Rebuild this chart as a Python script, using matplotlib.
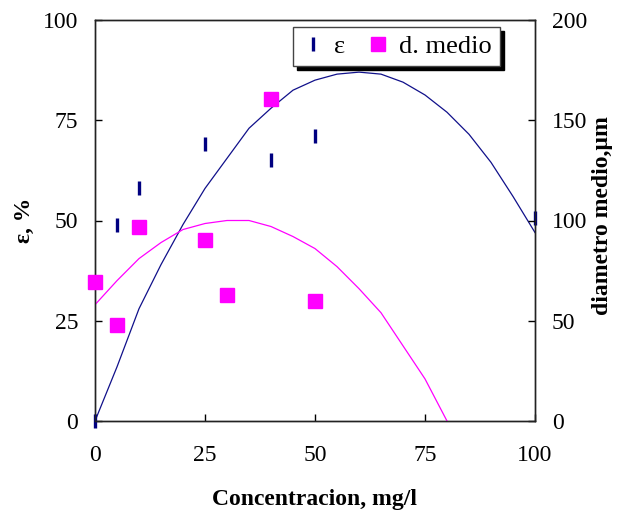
import matplotlib
matplotlib.use("Agg")
import matplotlib.pyplot as plt
from matplotlib.lines import Line2D

plt.rcParams["font.family"] = ["Liberation Serif", "DejaVu Serif"]

# measured points
conc_eps = [0, 5, 10, 25, 40, 50, 100]
eps = [0, 49, 58, 69, 65, 71, 50.5]

conc_d = [0, 5, 10, 25, 30, 40, 50]
d_medio = [69.5, 48, 97, 90.5, 63, 160.5, 60]

# trend curves
trend_x_eps = [0, 5, 10, 15, 20, 25, 30, 35, 40, 45, 50, 55, 60, 65, 70, 75, 80, 85, 90, 95, 100]
trend_eps = [0, 13.5, 28, 39, 49, 58, 65.5, 73, 78, 82.5, 85, 86.5, 87, 86.5, 84.5, 81.3, 77, 71.5, 64.5, 56, 47]

trend_x_d = [0, 5, 10, 15, 20, 25, 30, 35, 40, 45, 50, 55, 60, 65, 70, 75, 80]
trend_d = [58, 70, 81, 89, 95.5, 98.5, 100, 100, 97, 92, 86, 77, 66, 54, 37.5, 21, 0]

navy = "#10108a"
magenta = "#FF00FF"

fig = plt.figure(figsize=(6.2, 5.2), dpi=100)
ax = fig.add_axes([95 / 620, 1 - 421 / 520, 440 / 620, 401 / 520])
ax2 = ax.twinx()

ax.plot(trend_x_eps, trend_eps, color=navy, lw=0.9)
ax.plot(conc_eps, eps, ls="none", marker="|", ms=9.5, mew=2.4, color="#000080", clip_on=False, zorder=5)

ax2.plot(trend_x_d, trend_d, color=magenta, lw=0.9)
ax2.plot(conc_d, d_medio, ls="none", marker="s", ms=9.5, color=magenta, mec=magenta, clip_on=False, zorder=5)

ax.set_xlim(0, 100)
ax.set_ylim(0, 100)
ax2.set_ylim(0, 200)
ax.set_xticks([0, 25, 50, 75, 100])
ax.set_yticks([0, 25, 50, 75, 100])
ax2.set_yticks([0, 50, 100, 150, 200])

ax.tick_params(axis="x", direction="in", length=5, width=1, labelsize=17, pad=17, top=False)
ax.tick_params(axis="y", direction="in", length=5, width=1, labelsize=17, pad=12, right=False)
ax2.tick_params(axis="y", direction="in", length=5, width=1, labelsize=17, pad=12)

for a in (ax, ax2):
    for s in a.spines.values():
        s.set_linewidth(1.0)
        s.set_color("#222222")

ax.set_xlabel("Concentracion, mg/l", fontsize=17, fontweight="bold")
ax.xaxis.set_label_coords(0.5, -0.17)
ax.set_ylabel("ε, %", fontsize=17, fontweight="bold")
ax.yaxis.set_label_coords(-0.136, 0.5)
ax2.set_ylabel("diametro medio,µm", fontsize=17, fontweight="bold", rotation=90)
ax2.yaxis.set_label_coords(1.13, 0.512)

handles = [
    Line2D([], [], ls="none", marker="|", ms=9.5, mew=2.4, color="#000080"),
    Line2D([], [], ls="none", marker="s", ms=9.5, color=magenta),
]
leg = ax2.legend(handles, ["ε", "d. medio"], loc="upper left", bbox_to_anchor=(0.45, 0.9825),
                 ncol=2, fontsize=19, frameon=True, fancybox=False, framealpha=1,
                 edgecolor="#444444", handlelength=0.9, handletextpad=0.35, columnspacing=0.8,
                 borderpad=0.3, borderaxespad=0,
                 shadow={"color": "black", "alpha": 1, "ox": 3, "oy": -3})
leg.get_frame().set_linewidth(1.0)

fig.savefig("out.png", dpi=100)
